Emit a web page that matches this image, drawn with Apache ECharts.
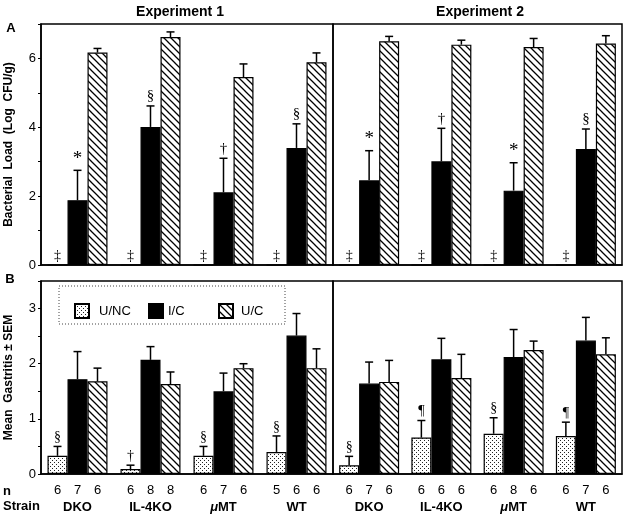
<!DOCTYPE html>
<html>
<head>
<meta charset="utf-8">
<script src="https://cdn.jsdelivr.net/npm/echarts@6/dist/echarts.min.js"></script>
<style>
  html, body { margin: 0; padding: 0; background: #fff; }
  #main { width: 628px; height: 515px; }
</style>
</head>
<body>
<div id="main"></div>
<script>
// 品系
const strains = ["DKO", "IL-4KO", "μMT", "WT"];

// A: bacterial load (log CFU/g), mean and SEM
const loadUNC = [0, 0, 0, 0];
const loadE1IC = [1.88, 4.01, 2.11, 3.4];
const loadE1ICsem = [0.87, 0.61, 0.99, 0.7];
const loadE1UC = [6.17, 6.62, 5.46, 5.89];
const loadE1UCsem = [0.12, 0.15, 0.38, 0.27];
const loadE2IC = [2.46, 3.01, 2.16, 3.37];
const loadE2ICsem = [0.86, 0.96, 0.81, 0.58];
const loadE2UC = [6.5, 6.4, 6.33, 6.43];
const loadE2UCsem = [0.14, 0.13, 0.25, 0.23];
const markAUNC = ["‡", "‡", "‡", "‡"];
const markE1IC = ["*", "§", "†", "§"];
const markE2IC = ["*", "†", "*", "§"];

// B: mean gastritis ± SEM
const gasE1UNC = [0.33, 0.09, 0.33, 0.4];
const gasE1UNCsem = [0.17, 0.07, 0.17, 0.29];
const gasE1IC = [1.72, 2.07, 1.5, 2.51];
const gasE1ICsem = [0.5, 0.24, 0.33, 0.4];
const gasE1UC = [1.68, 1.63, 1.92, 1.92];
const gasE1UCsem = [0.24, 0.22, 0.08, 0.35];
const gasE2UNC = [0.16, 0.66, 0.73, 0.69];
const gasE2UNCsem = [0.16, 0.31, 0.29, 0.25];
const gasE2IC = [1.64, 2.08, 2.12, 2.42];
const gasE2ICsem = [0.39, 0.38, 0.5, 0.42];
const gasE2UC = [1.67, 1.74, 2.25, 2.17];
const gasE2UCsem = [0.39, 0.43, 0.16, 0.3];
const markE1UNC = ["§", "†", "§", "§"];
const markE2UNC = ["§", "¶", "§", "¶"];

// n per group
const nE1UNC = [6, 6, 6, 5];
const nE1IC = [7, 8, 7, 6];
const nE1UC = [6, 8, 6, 6];
const nE2UNC = [6, 6, 6, 6];
const nE2IC = [7, 6, 8, 7];
const nE2UC = [6, 6, 6, 6];

const FONT = "'Liberation Sans', Arial, sans-serif";
const SERIF = "'Liberation Serif', 'Times New Roman', serif";

// fill patterns
function dotPattern() {
  const c = document.createElement("canvas");
  c.width = 4;
  c.height = 4;
  const ctx = c.getContext("2d");
  ctx.fillStyle = "#fff";
  ctx.fillRect(0, 0, 4, 4);
  ctx.fillStyle = "#222";
  ctx.fillRect(0, 0, 1, 1);
  ctx.fillRect(2, 2, 1, 1);
  return { image: c, repeat: "repeat" };
}
function hatchPattern() {
  const s = 7;
  const c = document.createElement("canvas");
  c.width = s;
  c.height = s;
  const ctx = c.getContext("2d");
  ctx.fillStyle = "#fff";
  ctx.fillRect(0, 0, s, s);
  ctx.strokeStyle = "#000";
  ctx.lineWidth = 1.3;
  ctx.beginPath();
  for (let k = -1; k <= 1; k++) {
    ctx.moveTo(k * s - 1, -1);
    ctx.lineTo(k * s + s + 1, s + 1);
  }
  ctx.stroke();
  return { image: c, repeat: "repeat" };
}
const fills = { "U/NC": dotPattern(), "I/C": "#000", "U/C": hatchPattern() };

function barSeries(name, idx, vals, ns) {
  return {
    name: name,
    type: "bar",
    xAxisIndex: idx,
    yAxisIndex: idx,
    data: vals,
    barWidth: 20,
    barGap: "0%",
    itemStyle: { color: fills[name], borderColor: "#000", borderWidth: 1.2 },
    label: ns
      ? {
          show: true,
          position: "bottom",
          distance: 10,
          color: "#000",
          fontFamily: FONT,
          fontSize: 13,
          formatter: (p) => String(ns[p.dataIndex]),
        }
      : { show: false },
  };
}

// upper error bars + significance marks
function errSeries(idx, off, vals, sems, marks, markSize) {
  return {
    type: "custom",
    xAxisIndex: idx,
    yAxisIndex: idx,
    z: 5,
    silent: true,
    data: vals.map((v, i) => [i, v, v + sems[i]]),
    renderItem: function (params, api) {
      const base = api.coord([api.value(0), api.value(1)]);
      const top = api.coord([api.value(0), api.value(2)]);
      const x = base[0] + off;
      const children = [];
      if (api.value(2) > api.value(1)) {
        children.push({
          type: "line",
          shape: { x1: x, y1: base[1], x2: x, y2: top[1] },
          style: { stroke: "#000", lineWidth: 1.5 },
        });
        children.push({
          type: "line",
          shape: { x1: x - 4, y1: top[1], x2: x + 4, y2: top[1] },
          style: { stroke: "#000", lineWidth: 1.5 },
        });
      }
      const m = marks && marks[params.dataIndex];
      if (m) {
        children.push({
          type: "text",
          style: {
            text: m,
            x: x,
            y: top[1] - 2,
            align: "center",
            verticalAlign: "bottom",
            font: (m === "*" ? "19px " : markSize + "px ") + SERIF,
            fill: "#000",
          },
        });
      }
      return { type: "group", children: children };
    },
  };
}

const mychart = echarts.init(document.getElementById("main"));

const grids = [
  { left: 41, top: 24, width: 292, height: 241 },
  { left: 333, top: 24, width: 289, height: 241 },
  { left: 41, top: 281, width: 292, height: 193 },
  { left: 333, top: 281, width: 289, height: 193 },
].map((g) => Object.assign(g, { show: true, borderColor: "#000", borderWidth: 1.5 }));

const xAxes = [0, 1, 2, 3].map((i) => ({
  type: "category",
  gridIndex: i,
  data: strains,
  axisLine: { lineStyle: { color: "#000", width: 1.5 } },
  axisTick: { show: false },
  axisLabel: {
    show: i >= 2,
    margin: 27,
    interval: 0,
    formatter: (v) => (v === "μMT" ? "{mu|μ}{b|MT}" : "{b|" + v + "}"),
    rich: {
      b: { fontFamily: FONT, fontSize: 13, fontWeight: "bold", color: "#000" },
      mu: { fontFamily: FONT, fontSize: 13, fontWeight: "bold", fontStyle: "italic", color: "#000" },
    },
  },
}));

const yBase = (i) => ({
  type: "value",
  gridIndex: i,
  splitLine: { show: false },
  axisLine: { show: true, lineStyle: { color: "#000", width: 1.5 } },
  axisTick: { show: true, length: 3, lineStyle: { color: "#000" } },
  axisLabel: { color: "#000", fontFamily: FONT, fontSize: 13, margin: 5 },
  nameLocation: "middle",
  nameTextStyle: { fontFamily: FONT, fontSize: 12, fontWeight: "bold", color: "#000" },
});
const yAxes = [
  Object.assign(yBase(0), {
    min: 0, max: 7, interval: 1,
    name: "Bacterial  Load  (Log  CFU/g)",
    nameGap: 26,
  }),
  Object.assign(yBase(1), { min: 0, max: 7, interval: 1, show: false }),
  Object.assign(yBase(2), {
    min: 0, max: 3.5, interval: 0.5,
    name: "Mean  Gastritis ± SEM",
    nameGap: 26,
  }),
  Object.assign(yBase(3), { min: 0, max: 3.5, interval: 0.5, show: false }),
];
yAxes[0].axisLabel.formatter = (v) => (v % 2 === 0 && v < 7 ? String(v) : "");
yAxes[2].axisLabel.formatter = (v) => (Number.isInteger(v) ? String(v) : "");

const series = [
  // A, experiment 1
  barSeries("U/NC", 0, loadUNC),
  barSeries("I/C", 0, loadE1IC),
  barSeries("U/C", 0, loadE1UC),
  errSeries(0, -20, loadUNC, [0, 0, 0, 0], markAUNC, 14),
  errSeries(0, 0, loadE1IC, loadE1ICsem, markE1IC, 15),
  errSeries(0, 20, loadE1UC, loadE1UCsem, null),
  // A, experiment 2
  barSeries("U/NC", 1, loadUNC),
  barSeries("I/C", 1, loadE2IC),
  barSeries("U/C", 1, loadE2UC),
  errSeries(1, -20, loadUNC, [0, 0, 0, 0], markAUNC, 14),
  errSeries(1, 0, loadE2IC, loadE2ICsem, markE2IC, 15),
  errSeries(1, 20, loadE2UC, loadE2UCsem, null),
  // B, experiment 1
  barSeries("U/NC", 2, gasE1UNC, nE1UNC),
  barSeries("I/C", 2, gasE1IC, nE1IC),
  barSeries("U/C", 2, gasE1UC, nE1UC),
  errSeries(2, -20, gasE1UNC, gasE1UNCsem, markE1UNC, 14),
  errSeries(2, 0, gasE1IC, gasE1ICsem, null),
  errSeries(2, 20, gasE1UC, gasE1UCsem, null),
  // B, experiment 2
  barSeries("U/NC", 3, gasE2UNC, nE2UNC),
  barSeries("I/C", 3, gasE2IC, nE2IC),
  barSeries("U/C", 3, gasE2UC, nE2UC),
  errSeries(3, -20, gasE2UNC, gasE2UNCsem, markE2UNC, 14),
  errSeries(3, 0, gasE2IC, gasE2ICsem, null),
  errSeries(3, 20, gasE2UC, gasE2UCsem, null),
];

const legendItem = (name, left, pad) => ({
  data: [{ name: name, icon: "rect" }],
  left: left,
  top: 298,
  orient: "horizontal",
  itemWidth: 14,
  itemHeight: 14,
  selectedMode: false,
  formatter: (n) => "{a|" + n + "}",
  textStyle: {
    rich: { a: { fontFamily: FONT, fontSize: 13, color: "#000", padding: [0, 0, 0, pad] } },
  },
});

const txt = (text, x, y, size, align, extra) => ({
  type: "text",
  x: x,
  y: y,
  style: Object.assign(
    {
      text: text,
      font: "bold " + size + "px " + FONT,
      fill: "#000",
      align: align,
      verticalAlign: "middle",
    },
    extra || {}
  ),
});

const option = {
  animation: false,
  backgroundColor: "#fff",
  grid: grids,
  xAxis: xAxes,
  yAxis: yAxes,
  series: series,
  legend: [legendItem("U/NC", 69, 5), legendItem("I/C", 143, 0), legendItem("U/C", 213, 3)],
  graphic: [
    txt("Experiment 1", 180, 12, 14, "center"),
    txt("Experiment 2", 480, 12, 14, "center"),
    txt("A", 11, 28, 13, "center"),
    txt("B", 10, 279, 13, "center"),
    txt("n", 3, 491, 13, "left"),
    txt("Strain", 3, 506, 13, "left"),
    {
      type: "rect",
      shape: { x: 59, y: 286, width: 226, height: 38 },
      style: { fill: null, stroke: "#444", lineWidth: 1, lineDash: [1, 2] },
    },
  ],
};
mychart.setOption(option);
</script>
</body>
</html>
